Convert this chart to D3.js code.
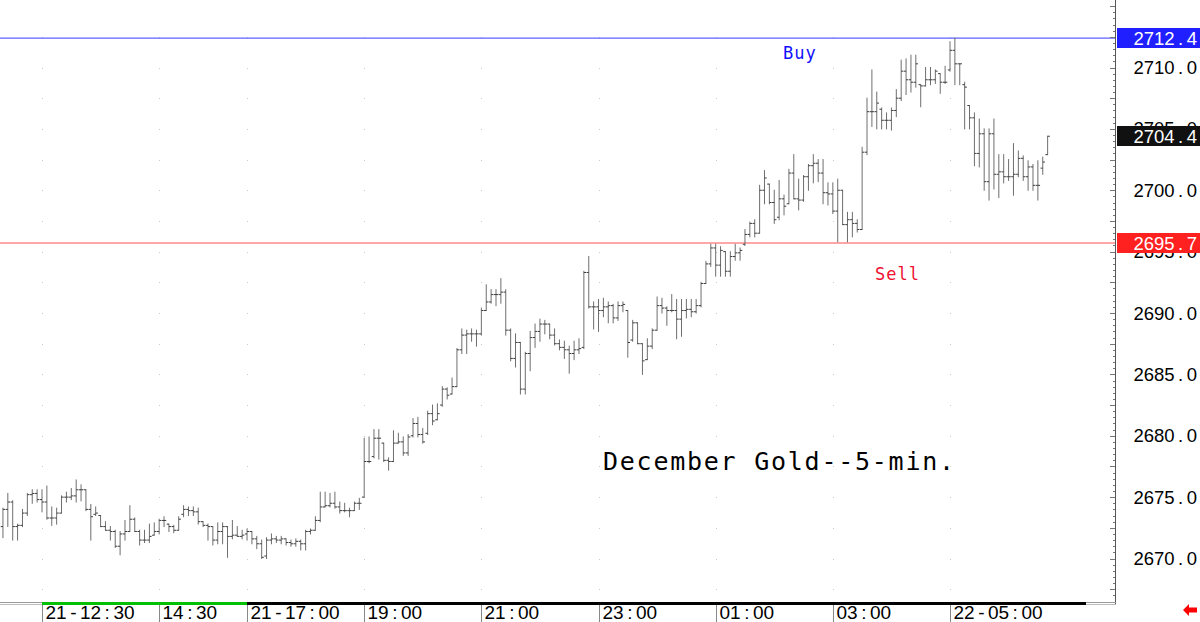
<!DOCTYPE html>
<html>
<head>
<meta charset="utf-8">
<script src="https://cdn.jsdelivr.net/npm/d3@7"></script>
<style>
  body { margin: 0; background: #fff; }
  svg { display: block; }
</style>
</head>
<body>
<script>
const width = 1200;
const height = 622;

// 5-minute bars, 21-11:50 .. 22-06:40 (session break 16:00-17:00)
const opens = [
  2672.6, 2674.0, 2674.6, 2672.6, 2672.7, 2673.7, 2675.2, 2675.3, 2674.8, 2674.6,
  2673.3, 2673.3, 2673.7, 2675.0, 2675.0, 2675.1, 2675.6, 2675.6, 2674.0, 2673.6,
  2673.5, 2672.6, 2672.3, 2672.2, 2671.0, 2672.0, 2672.2, 2673.2, 2672.2, 2671.5,
  2671.5, 2671.9, 2672.2, 2673.1, 2672.8, 2672.6, 2672.3, 2673.6, 2674.0, 2673.9,
  2673.8, 2673.0, 2672.7, 2672.6, 2671.5, 2672.2, 2672.6, 2671.8, 2671.9, 2671.8,
  2672.0, 2672.2, 2671.6, 2671.2, 2670.2, 2671.5, 2671.6, 2671.5, 2671.6, 2671.3,
  2671.2, 2671.4, 2671.2, 2672.2, 2672.3, 2673.1, 2674.2, 2674.3, 2674.5, 2674.2,
  2673.9, 2673.9, 2673.9, 2674.5, 2675.0, 2677.9, 2678.3, 2679.8, 2679.4, 2678.0,
  2677.9, 2679.4, 2679.5, 2678.6, 2680.0, 2681.0, 2680.1, 2680.2, 2681.8, 2681.3,
  2682.5, 2683.8, 2683.4, 2684.0, 2687.0, 2688.2, 2688.3, 2688.3, 2688.3, 2690.2,
  2690.9, 2691.5, 2691.5, 2691.7, 2688.6, 2686.3, 2687.6, 2683.8, 2686.7, 2688.0,
  2688.5, 2689.1, 2689.1, 2688.2, 2687.5, 2687.2, 2687.0, 2686.7, 2687.0, 2687.2,
  2693.3, 2690.5, 2690.5, 2690.2, 2690.5, 2690.6, 2689.6, 2690.6, 2690.2, 2687.8,
  2689.2, 2687.5, 2686.2, 2687.3, 2688.6, 2690.6, 2690.4, 2690.2, 2690.2, 2689.5,
  2690.2, 2690.3, 2690.1, 2690.6, 2692.4, 2694.0, 2695.3, 2693.9, 2695.0, 2693.4,
  2694.6, 2694.9, 2695.6, 2696.4, 2697.3, 2696.5, 2700.0, 2700.5, 2699.0, 2697.8,
  2699.3, 2698.9, 2701.4, 2699.3, 2699.2, 2701.1, 2702.0, 2702.2, 2701.4, 2699.8,
  2699.7, 2698.3, 2700.0, 2697.2, 2697.6, 2697.3, 2696.8, 2703.1, 2706.4, 2706.4,
  2706.6, 2705.7, 2705.7, 2706.5, 2707.5, 2709.7, 2709.0, 2708.8, 2708.6, 2708.5,
  2709.0, 2709.0, 2709.5, 2708.8, 2709.8, 2711.4, 2710.3, 2708.6, 2706.9, 2705.9,
  2703.0, 2704.6, 2700.7, 2704.6, 2701.3, 2701.5, 2701.1, 2701.1, 2701.3, 2702.6,
  2701.1, 2701.9, 2700.4, 2701.8, 2702.9
];
const highs = [
  2674.1, 2675.3, 2674.7, 2672.8, 2674.0, 2675.3, 2675.6, 2675.6, 2675.6, 2675.9,
  2674.2, 2674.1, 2675.1, 2675.4, 2675.7, 2676.4, 2676.0, 2675.6, 2674.4, 2674.2,
  2673.5, 2673.0, 2672.6, 2672.3, 2672.2, 2673.1, 2674.3, 2673.3, 2672.3, 2672.3,
  2672.8, 2672.9, 2673.2, 2673.4, 2672.8, 2672.7, 2673.4, 2674.3, 2674.2, 2674.2,
  2674.1, 2673.0, 2672.8, 2672.6, 2672.9, 2672.9, 2672.6, 2673.1, 2672.6, 2672.3,
  2672.4, 2672.2, 2671.8, 2671.5, 2671.7, 2672.0, 2671.8, 2671.8, 2671.6, 2671.5,
  2671.6, 2671.5, 2672.3, 2672.4, 2673.4, 2675.4, 2675.4, 2675.3, 2675.4, 2674.6,
  2674.5, 2674.1, 2674.6, 2674.9, 2679.8, 2679.9, 2680.5, 2680.5, 2679.4, 2678.2,
  2680.4, 2680.2, 2679.9, 2680.1, 2681.4, 2681.5, 2680.6, 2682.0, 2682.5, 2682.6,
  2684.0, 2683.9, 2684.7, 2687.1, 2688.7, 2688.6, 2688.7, 2688.6, 2690.4, 2692.3,
  2691.9, 2691.9, 2692.8, 2691.9, 2688.7, 2688.3, 2687.6, 2686.8, 2688.5, 2689.1,
  2689.5, 2689.4, 2689.1, 2688.7, 2687.8, 2687.7, 2687.3, 2687.7, 2687.9, 2693.4,
  2694.6, 2690.9, 2691.1, 2691.2, 2690.9, 2690.7, 2690.9, 2690.9, 2690.2, 2689.4,
  2689.2, 2687.5, 2687.9, 2688.7, 2691.3, 2691.2, 2690.5, 2691.5, 2691.1, 2691.1,
  2691.1, 2691.1, 2691.1, 2692.5, 2694.2, 2695.6, 2695.6, 2695.4, 2695.0, 2695.0,
  2695.6, 2695.3, 2696.8, 2697.4, 2697.6, 2700.4, 2701.6, 2700.5, 2700.0, 2700.8,
  2699.6, 2701.7, 2702.9, 2700.9, 2701.2, 2702.1, 2702.9, 2702.5, 2702.5, 2700.6,
  2700.6, 2700.9, 2700.0, 2698.2, 2698.2, 2697.6, 2703.5, 2707.5, 2709.8, 2708.0,
  2706.7, 2706.3, 2706.7, 2708.2, 2710.6, 2710.7, 2711.0, 2711.0, 2708.6, 2710.0,
  2710.0, 2709.8, 2709.5, 2710.1, 2712.1, 2712.4, 2710.3, 2708.8, 2706.9, 2706.3,
  2705.8, 2705.0, 2705.0, 2705.8, 2702.9, 2702.9, 2702.5, 2703.8, 2703.2, 2702.8,
  2702.4, 2702.1, 2702.4, 2702.7, 2704.4
];
const lows = [
  2671.7, 2672.6, 2671.5, 2671.5, 2672.6, 2673.5, 2674.5, 2674.6, 2673.8, 2673.2,
  2672.7, 2672.8, 2673.7, 2674.6, 2674.8, 2674.6, 2674.7, 2673.9, 2671.5, 2673.5,
  2672.6, 2672.3, 2671.5, 2670.9, 2670.3, 2671.5, 2672.2, 2672.2, 2671.1, 2671.3,
  2671.3, 2671.9, 2672.0, 2672.6, 2672.2, 2672.1, 2672.3, 2673.4, 2673.5, 2673.5,
  2672.8, 2672.6, 2671.5, 2671.1, 2671.2, 2671.2, 2670.1, 2671.6, 2671.8, 2671.6,
  2671.5, 2671.2, 2670.8, 2670.0, 2670.0, 2671.2, 2671.3, 2671.2, 2671.1, 2671.0,
  2671.0, 2670.7, 2670.7, 2672.0, 2672.3, 2673.0, 2674.2, 2674.2, 2674.1, 2673.7,
  2673.8, 2673.4, 2673.9, 2674.0, 2675.0, 2677.8, 2678.2, 2678.1, 2677.9, 2677.2,
  2677.9, 2679.4, 2678.4, 2678.4, 2679.9, 2679.9, 2679.4, 2680.1, 2680.9, 2681.3,
  2682.4, 2683.0, 2683.4, 2684.0, 2686.7, 2686.7, 2687.7, 2687.3, 2688.2, 2690.2,
  2690.8, 2690.6, 2690.8, 2688.2, 2686.1, 2685.6, 2683.4, 2683.4, 2685.3, 2687.2,
  2687.7, 2688.3, 2687.9, 2687.4, 2687.0, 2686.3, 2685.1, 2686.2, 2686.7, 2687.1,
  2690.4, 2688.7, 2688.5, 2689.7, 2689.2, 2689.2, 2689.4, 2690.1, 2686.4, 2687.7,
  2687.5, 2685.0, 2686.2, 2687.1, 2688.6, 2690.0, 2689.0, 2690.1, 2687.9, 2688.1,
  2689.6, 2689.7, 2690.0, 2690.5, 2692.4, 2693.8, 2693.0, 2693.0, 2693.0, 2693.0,
  2694.3, 2694.3, 2695.5, 2696.2, 2696.2, 2696.5, 2698.9, 2698.9, 2697.3, 2697.6,
  2698.0, 2698.9, 2699.3, 2698.4, 2699.1, 2700.0, 2700.6, 2700.7, 2698.9, 2698.8,
  2698.1, 2695.8, 2697.2, 2695.8, 2696.2, 2696.6, 2696.8, 2702.9, 2705.2, 2705.0,
  2705.0, 2705.0, 2704.9, 2706.0, 2707.3, 2707.8, 2708.0, 2708.4, 2706.8, 2708.5,
  2708.6, 2708.7, 2707.9, 2708.7, 2709.7, 2708.6, 2708.6, 2705.0, 2705.0, 2702.0,
  2701.9, 2700.0, 2699.2, 2700.1, 2699.4, 2700.6, 2700.8, 2699.6, 2701.1, 2700.8,
  2700.0, 2700.0, 2699.2, 2701.3, 2702.9
];
const closes = [
  2674.0, 2674.6, 2672.6, 2672.7, 2673.7, 2675.2, 2675.3, 2674.8, 2674.6, 2673.3,
  2673.3, 2673.7, 2675.0, 2675.0, 2675.1, 2675.6, 2675.6, 2674.0, 2673.4, 2673.7,
  2672.6, 2672.3, 2672.2, 2671.0, 2672.0, 2672.2, 2673.2, 2672.2, 2671.5, 2671.5,
  2671.8, 2672.2, 2673.1, 2673.1, 2672.6, 2672.3, 2673.2, 2674.0, 2673.9, 2673.8,
  2673.0, 2672.7, 2672.6, 2671.5, 2672.2, 2672.6, 2671.8, 2671.9, 2671.8, 2671.9,
  2672.2, 2671.6, 2671.2, 2670.1, 2671.5, 2671.6, 2671.5, 2671.6, 2671.3, 2671.2,
  2671.4, 2671.2, 2672.2, 2672.3, 2673.1, 2674.2, 2674.3, 2674.5, 2674.2, 2673.9,
  2673.9, 2673.9, 2674.5, 2674.5, 2677.9, 2677.9, 2679.8, 2679.8, 2678.0, 2677.9,
  2679.4, 2679.5, 2678.6, 2679.9, 2681.0, 2680.1, 2679.5, 2681.8, 2681.2, 2681.8,
  2683.8, 2683.3, 2684.0, 2687.0, 2688.2, 2688.3, 2688.3, 2688.3, 2690.2, 2690.9,
  2691.5, 2691.5, 2691.7, 2688.6, 2686.3, 2687.6, 2683.8, 2686.7, 2688.0, 2688.5,
  2689.1, 2689.1, 2688.2, 2687.5, 2687.2, 2687.0, 2686.7, 2687.0, 2687.1, 2693.3,
  2690.5, 2690.5, 2690.2, 2690.5, 2690.6, 2689.6, 2690.6, 2690.7, 2687.6, 2689.2,
  2687.5, 2686.1, 2687.3, 2688.6, 2690.6, 2690.4, 2690.2, 2690.2, 2689.5, 2690.2,
  2690.3, 2690.1, 2690.6, 2692.4, 2694.0, 2695.3, 2693.9, 2695.1, 2693.4, 2694.6,
  2694.9, 2695.1, 2696.4, 2697.3, 2696.5, 2700.0, 2701.0, 2699.0, 2697.6, 2699.3,
  2698.7, 2701.4, 2699.3, 2699.2, 2701.1, 2702.0, 2702.2, 2701.4, 2699.8, 2699.7,
  2698.3, 2700.0, 2697.2, 2697.6, 2697.3, 2696.8, 2703.1, 2706.4, 2706.4, 2707.1,
  2705.7, 2705.7, 2706.5, 2707.5, 2709.7, 2709.0, 2708.8, 2710.3, 2708.5, 2709.0,
  2709.0, 2709.7, 2708.8, 2708.8, 2711.4, 2710.3, 2710.3, 2708.4, 2705.9, 2703.0,
  2704.6, 2700.7, 2704.6, 2701.3, 2701.5, 2701.1, 2701.1, 2701.3, 2702.6, 2701.1,
  2701.9, 2700.4, 2700.4, 2702.3, 2704.4
];

// time axis: bar index of each label
const timeTickIndex = [8, 32, 50, 74, 98, 122, 146, 170, 194];
const timeTickLabels = ["21-12:30", "14:30", "21-17:00", "19:00", "21:00", "23:00", "01:00", "03:00", "22-05:00"];

const priceTicks = [2670, 2675, 2680, 2685, 2690, 2695, 2700, 2705, 2710];
const buyLevel = 2712.4;
const sellLevel = 2695.7;
const lastPrice = 2704.4;

const plotRight = 1115;
const plotBottom = 602;

const x = d3.scaleLinear().domain([8, 194]).range([42, 950]);
const y = d3.scaleLinear().domain([2670, 2710]).range([558.5, 67.5]);

const svg = d3.select('body').append('svg')
  .attr('width', width)
  .attr('height', height)
  .style('font-family', '"Liberation Sans", Arial, sans-serif');

svg.append('rect').attr('width', width).attr('height', height).attr('fill', '#fff');

// faint grid dots
const gridLevels = d3.range(2667.5, 2713, 2.5);
const gridDots = [];
timeTickIndex.forEach(i => gridLevels.forEach(p => gridDots.push([x(i), y(p)])));
svg.append('g').selectAll('rect')
  .data(gridDots)
  .enter().append('rect')
  .attr('x', d => Math.round(d[0]))
  .attr('y', d => Math.round(d[1]))
  .attr('width', 1).attr('height', 1)
  .attr('fill', '#c8c8c8');

// buy / sell lines
svg.append('line')
  .attr('x1', 0).attr('x2', plotRight)
  .attr('y1', y(buyLevel)).attr('y2', y(buyLevel))
  .attr('stroke', '#6060ff').attr('stroke-width', 1.2);
svg.append('line')
  .attr('x1', 0).attr('x2', plotRight)
  .attr('y1', y(sellLevel)).attr('y2', y(sellLevel))
  .attr('stroke', '#ff8a8a').attr('stroke-width', 1.4);

// OHLC bars
const bars = svg.append('g').selectAll('g')
  .data(d3.range(opens.length))
  .enter().append('g')
  .attr('stroke', '#6e6e6e')
  .attr('stroke-width', 1);

bars.append('line')
  .attr('x1', i => x(i)).attr('x2', i => x(i))
  .attr('y1', i => y(highs[i]) - 0.5).attr('y2', i => y(lows[i]) + 0.5);
bars.append('line')
  .attr('x1', i => x(i) - 2.2).attr('x2', i => x(i))
  .attr('y1', i => y(opens[i])).attr('y2', i => y(opens[i]))
  .attr('stroke', '#3c3c3c');
bars.append('line')
  .attr('x1', i => x(i)).attr('x2', i => x(i) + 2.2)
  .attr('y1', i => y(closes[i])).attr('y2', i => y(closes[i]))
  .attr('stroke', '#3c3c3c');

// title and signal text
svg.append('text')
  .attr('x', 603).attr('y', 470)
  .attr('font-family', '"DejaVu Sans Mono", monospace')
  .attr('font-size', 25)
  .attr('letter-spacing', 1.75)
  .attr('fill', '#000')
  .text('December Gold--5-min.');

svg.append('text')
  .attr('x', 783).attr('y', 59)
  .attr('font-family', '"DejaVu Sans Mono", monospace')
  .attr('font-size', 17).attr('letter-spacing', 1)
  .attr('fill', '#1010ff')
  .text('Buy');

svg.append('text')
  .attr('x', 875).attr('y', 280)
  .attr('font-family', '"DejaVu Sans Mono", monospace')
  .attr('font-size', 17).attr('letter-spacing', 1)
  .attr('fill', '#ee1030')
  .text('Sell');

// text with extra space around separators (".", ":", "-")
function spacedText(sel, str, gap) {
  const parts = str.match(/\d+|\D/g);
  let prevSep = false;
  parts.forEach(part => {
    const sep = /\D/.test(part);
    sel.append('tspan')
      .attr('dx', (sep || prevSep) ? gap : 0)
      .text(part);
    prevSep = sep;
  });
}

// right price axis
const axisG = svg.append('g');
axisG.append('line')
  .attr('x1', plotRight + 0.5).attr('x2', plotRight + 0.5)
  .attr('y1', 0).attr('y2', plotBottom + 2)
  .attr('stroke', '#555');

const minorTicks = d3.range(2667, 2715.01, 0.5);
axisG.selectAll('line.tick')
  .data(minorTicks)
  .enter().append('line')
  .attr('class', 'tick')
  .attr('x1', d => (Math.abs(d / 2.5 - Math.round(d / 2.5)) < 1e-6) ? plotRight - 5 : plotRight - 2)
  .attr('x2', plotRight)
  .attr('y1', d => Math.round(y(d)) + 0.5)
  .attr('y2', d => Math.round(y(d)) + 0.5)
  .attr('stroke', '#777');

// plain tick labels (the 2705.0 / 2695.0 ones sit partly under the level boxes, as on the original)
priceTicks.forEach(p => {
  const t = axisG.append('text')
    .attr('x', 1197).attr('y', y(p) + 6.5)
    .attr('text-anchor', 'end')
    .attr('font-size', 18.5)
    .attr('fill', '#000');
  spacedText(t, p.toFixed(1), 3.5);
});

// level boxes on the price axis
const levelBoxes = [
  { value: buyLevel, color: '#1f1fff' },
  { value: lastPrice, color: '#111' },
  { value: sellLevel, color: '#ff2020' }
];
levelBoxes.forEach(b => {
  const cy = y(b.value);
  axisG.append('rect')
    .attr('x', plotRight + 2).attr('y', Math.round(cy) - 10)
    .attr('width', width - plotRight - 2).attr('height', 20)
    .attr('fill', b.color);
  const t = axisG.append('text')
    .attr('x', 1197).attr('y', cy + 6.5)
    .attr('text-anchor', 'end')
    .attr('font-size', 18.5)
    .attr('fill', '#fff');
  spacedText(t, b.value.toFixed(1), 3.5);
});

// bottom time axis
const bottom = svg.append('g');
bottom.append('line')
  .attr('x1', 0).attr('x2', plotRight + 1)
  .attr('y1', plotBottom + 0.5).attr('y2', plotBottom + 0.5)
  .attr('stroke', '#999');
bottom.append('line')
  .attr('x1', 0).attr('x2', plotRight + 1)
  .attr('y1', plotBottom + 2.5).attr('y2', plotBottom + 2.5)
  .attr('stroke', '#bbb');
bottom.append('line')
  .attr('x1', x(timeTickIndex[0])).attr('x2', x(timeTickIndex[2]))
  .attr('y1', plotBottom + 1.5).attr('y2', plotBottom + 1.5)
  .attr('stroke', '#00c000').attr('stroke-width', 3);
bottom.append('line')
  .attr('x1', x(timeTickIndex[2])).attr('x2', 1086)
  .attr('y1', plotBottom + 1.5).attr('y2', plotBottom + 1.5)
  .attr('stroke', '#000').attr('stroke-width', 3);

timeTickIndex.forEach((idx, k) => {
  const tx = Math.round(x(idx)) + 0.5;
  bottom.append('line')
    .attr('x1', tx).attr('x2', tx)
    .attr('y1', plotBottom + 3).attr('y2', height)
    .attr('stroke', '#888');
  const t = bottom.append('text')
    .attr('x', tx + 3).attr('y', 619)
    .attr('font-size', 19)
    .attr('fill', '#000');
  spacedText(t, timeTickLabels[k], 3.5);
});

// small red arrow, bottom right
svg.append('path')
  .attr('d', 'M1183,610 L1189,604 L1189,607.5 L1197,607.5 L1197,612.5 L1189,612.5 L1189,616 Z')
  .attr('fill', '#f00');
</script>
</body>
</html>
